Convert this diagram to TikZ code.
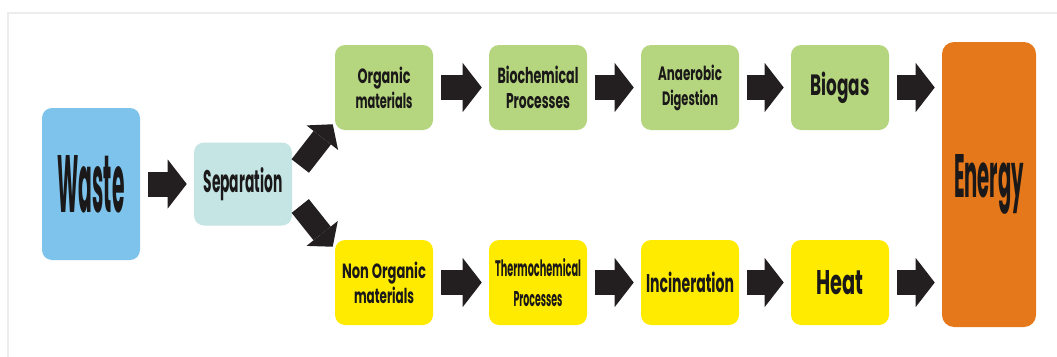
\documentclass[tikz,border=0pt]{standalone}
\usepackage{fontspec}
\setmainfont{Poppins}
\usetikzlibrary{arrows.meta,calc}
\newlength\px \setlength\px{0.75pt}
\newcommand\rz[3]{\resizebox{#1\px}{#2\px}{#3}}
\definecolor{wasteblue}{RGB}{125,195,236}
\definecolor{sepcol}{RGB}{197,228,228}
\definecolor{greencol}{RGB}{181,213,126}
\definecolor{yellowcol}{RGB}{255,235,0}
\definecolor{orangecol}{RGB}{229,120,26}
\definecolor{arrcol}{RGB}{35,31,32}
\definecolor{txtcol}{RGB}{26,24,24}
\definecolor{framecol}{RGB}{236,236,236}
\begin{document}
\begin{tikzpicture}[x=0.75pt,y=-0.75pt,
  box/.style={rounded corners=7.5pt, minimum width=73.5pt, minimum height=63.75pt,
    inner sep=0pt, align=center, text=txtcol,
    font=\bfseries\fontsize{10}{18.75}\selectfont},
  green/.style={box, fill=greencol},
  yellow/.style={box, fill=yellowcol},
  barrow/.style={draw=arrcol, line width=18.75pt,
    -{Triangle[length=14.25pt,width=36.75pt,line width=0pt]},
    shorten <=6pt, shorten >=5.25pt},
  darrow/.style={draw=arrcol, line width=16.5pt,
    -{Triangle[length=12.75pt,width=30pt,line width=0pt]}}
]
\useasboundingbox (0,0) rectangle (1057,357);
\fill[white] (0,0) rectangle (1057,357);
\draw[framecol, line width=1.5pt] (8,357) -- (8,13) -- (1057,13);

\node[box, fill=wasteblue, minimum height=114pt] (waste) at (91,184) {\rz{67}{57}{Waste}};
\node[box, fill=sepcol, minimum height=62.25pt] (sep) at (243,184) {\rz{79}{25}{Separation}};

\node[green] (org) at (384,87.5) {\rz{53}{16.5}{Organic}\\\rz{57}{16.5}{materials}};
\node[green] (bio) at (538,87.5) {\rz{81}{17.5}{Biochemical}\\\rz{64}{15}{Processes}};
\node[green] (ana) at (690,87.5) {\rz{64}{15.5}{Anaerobic}\\\rz{56}{15.5}{Digestion}};
\node[green] (gas) at (840,87.5) {\rz{59}{23.5}{Biogas}};

\node[yellow] (norg) at (384,282.5) {\rz{84}{16.5}{Non Organic}\\\rz{60}{16.5}{materials}};
\node[yellow] (thermo) at (538,282.5) {\rz{86}{18}{Thermochemical}\\[4pt]\rz{49}{15}{Processes}};
\node[yellow] (inc) at (690,282.5) {\rz{88}{20.5}{Incineration}};
\node[yellow] (heat) at (840,282.5) {\rz{47}{24}{Heat}};

\node[box, fill=orangecol, minimum width=70.5pt, minimum height=213.75pt, rounded corners=9pt] (energy) at (989,184.5) {\rz{70}{43}{Energy}};

\draw[barrow] (waste) -- (sep);
\draw[darrow] ($(sep.east)+(8,-18)$) -- ($(org.south west)+(-2,-6)$);
\draw[darrow] ($(sep.east)+(8,22)$) -- ($(norg.north west)+(-2,7)$);

\draw[barrow] (org) -- (bio);
\draw[barrow] (bio) -- (ana);
\draw[barrow] (ana) -- (gas);
\draw[barrow] (gas.east) -- (gas.east -| energy.west);

\draw[barrow] (norg) -- (thermo);
\draw[barrow] (thermo) -- (inc);
\draw[barrow] (inc) -- (heat);
\draw[barrow] (heat.east) -- (heat.east -| energy.west);
\end{tikzpicture}
\end{document}
